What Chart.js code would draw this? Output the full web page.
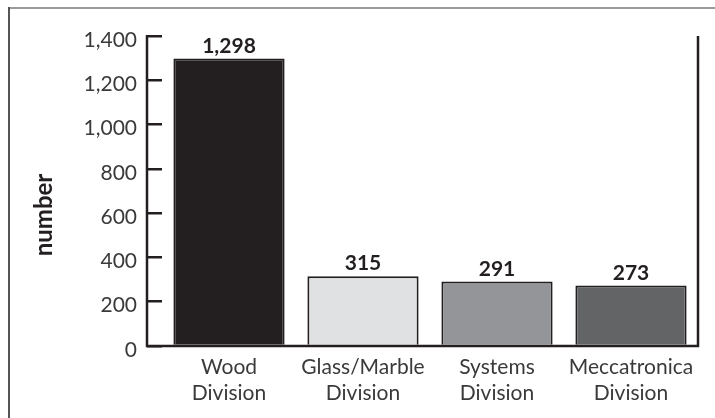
<!DOCTYPE html>
<html>
<head>
<meta charset="utf-8">
<script src="https://cdn.jsdelivr.net/npm/chart.js@4"></script>
<style>
  html, body { margin: 0; padding: 0; background: #fff; }
  #wrap { position: relative; width: 715px; height: 418px; }
</style>
</head>
<body>
<div id="wrap"><canvas id="c" width="715" height="418"></canvas></div>
<script>
const categories = [["Wood", "Division"], ["Glass/Marble", "Division"], ["Systems", "Division"], ["Meccatronica", "Division"]];
const values = [1298, 315, 291, 273];
const valueLabels = ["1,298", "315", "291", "273"];
const barColors = ["#231f20", "#e0e1e2", "#939598", "#636466"];
const yTicks = [0, 200, 400, 600, 800, 1000, 1200, 1400];
const yTitle = "number";

const INK = "#231f20";
const TICK_LEN = 15;
const FONT = "Lato, 'Open Sans', sans-serif";

const decor = {
  id: "decor",
  beforeDraw(chart) {
    const ctx = chart.ctx;
    ctx.save();
    ctx.lineWidth = 2;
    ctx.strokeStyle = "#9a9a9a";
    ctx.beginPath(); ctx.moveTo(8, 8); ctx.lineTo(715, 8); ctx.stroke();
    ctx.strokeStyle = "#555";
    ctx.beginPath(); ctx.moveTo(9, 7); ctx.lineTo(9, 418); ctx.stroke();
    ctx.restore();
  },
  afterDatasetsDraw(chart) {
    const ctx = chart.ctx;
    const a = chart.chartArea;
    const left = a.left - TICK_LEN;
    ctx.save();
    ctx.strokeStyle = INK;
    ctx.lineWidth = 2.5;
    ctx.beginPath();
    ctx.moveTo(left, a.top - 1);
    ctx.lineTo(left, a.bottom);
    ctx.lineTo(a.right, a.bottom);
    ctx.lineTo(a.right, a.top);
    ctx.stroke();
    // value labels
    ctx.fillStyle = INK;
    ctx.font = "bold 21px " + FONT;
    ctx.textAlign = "center";
    ctx.textBaseline = "alphabetic";
    const meta = chart.getDatasetMeta(0);
    meta.data.forEach((bar, i) => {
      ctx.fillText(valueLabels[i], bar.x, bar.y - 6);
    });
    // y title
    ctx.translate(44, 215);
    ctx.rotate(-Math.PI / 2);
    ctx.font = "bold 24px " + FONT;
    ctx.textBaseline = "middle";
    ctx.fillText(yTitle, 0, 0);
    ctx.restore();
  }
};

new Chart(document.getElementById("c"), {
  type: "bar",
  data: {
    labels: categories,
    datasets: [{
      data: values,
      backgroundColor: barColors,
      borderColor: INK,
      borderWidth: 2,
      borderSkipped: "bottom",
      barPercentage: 0.83,
      categoryPercentage: 1.0
    }]
  },
  options: {
    responsive: false,
    animation: false,
    devicePixelRatio: 1,
    layout: { padding: { top: 36, right: 17, left: 0, bottom: 0 } },
    plugins: { legend: { display: false }, tooltip: { enabled: false } },
    scales: {
      x: {
        grid: { display: false },
        border: { display: false },
        ticks: {
          color: "#3a3a3a",
          font: { family: FONT, size: 21, lineHeight: 1.25 },
          padding: 0,
          maxRotation: 0,
          autoSkip: false
        },
        afterFit(s) { s.height = 72; }
      },
      y: {
        min: 0,
        max: 1400,
        afterBuildTicks(s) { s.ticks = yTicks.map(v => ({ value: v })); },
        grid: {
          drawOnChartArea: false,
          drawTicks: true,
          tickLength: TICK_LEN,
          color: INK,
          lineWidth: 2.5
        },
        border: { display: false },
        ticks: {
          color: "#3a3a3a",
          font: { family: FONT, size: 21 },
          padding: 10,
          labelOffset: 4,
          callback: v => v.toLocaleString("en-US")
        },
        afterFit(s) { s.width = 162; }
      }
    }
  },
  plugins: [decor]
});
</script>
</body>
</html>
